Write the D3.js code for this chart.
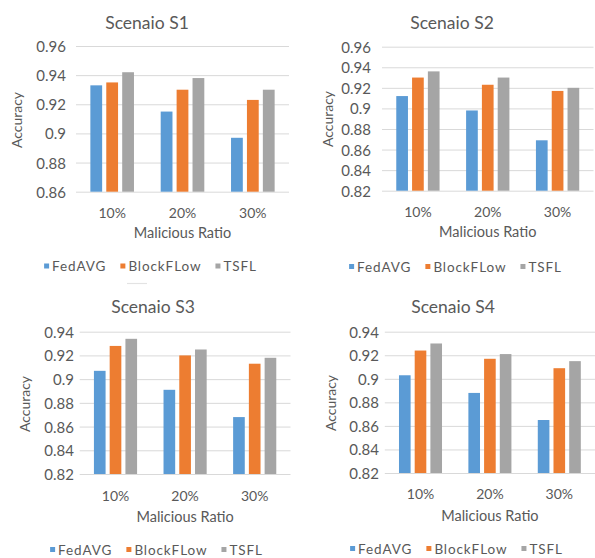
<!DOCTYPE html>
<html>
<head>
<meta charset="utf-8">
<script src="https://cdn.jsdelivr.net/npm/d3@7"></script>
<style>
  html, body { margin: 0; padding: 0; background: #fff; }
  svg { display: block; }
  text { font-family: Lato, "Open Sans", sans-serif; fill: #595959; }
</style>
</head>
<body>
<svg id="chart" width="595" height="558"></svg>
<script>
// Categories and series
const categories = ["10%", "20%", "30%"];
const seriesNames = ["FedAVG", "BlockFLow", "TSFL"];
const seriesColors = ["#5B9BD5", "#ED7D31", "#A5A5A5"];
const scenarioTitles = ["Scenaio S1", "Scenaio S2", "Scenaio S3", "Scenaio S4"];

// Accuracy per scenario: one row per series, one value per category
const s1FedAVG = [0.933, 0.915, 0.897];
const s1BlockFLow = [0.935, 0.930, 0.923];
const s1TSFL = [0.942, 0.938, 0.930];

const s2FedAVG = [0.912, 0.898, 0.869];
const s2BlockFLow = [0.930, 0.923, 0.917];
const s2TSFL = [0.936, 0.930, 0.920];

const s3FedAVG = [0.907, 0.891, 0.868];
const s3BlockFLow = [0.928, 0.920, 0.913];
const s3TSFL = [0.934, 0.925, 0.918];

const s4FedAVG = [0.903, 0.888, 0.865];
const s4BlockFLow = [0.924, 0.917, 0.909];
const s4TSFL = [0.930, 0.921, 0.915];

// Y-axis ticks per scenario
const s1Ticks = [0.86, 0.88, 0.90, 0.92, 0.94, 0.96];
const s2Ticks = [0.82, 0.84, 0.86, 0.88, 0.90, 0.92, 0.94, 0.96];
const s3Ticks = [0.82, 0.84, 0.86, 0.88, 0.90, 0.92, 0.94];
const s4Ticks = [0.82, 0.84, 0.86, 0.88, 0.90, 0.92, 0.94];

const xTitle = "Malicious Ratio";
const yTitle = "Accuracy";

const svg = d3.select("#chart");

// Layout of each panel (plot area and text anchors)
const panels = [
  { title: scenarioTitles[0], values: [s1FedAVG, s1BlockFLow, s1TSFL], ticks: s1Ticks,
    left: 77, right: 288, top: 46, bottom: 191.7, titleX: 147, titleY: 22,
    tickX: 66, catY: 212, axisTitleY: 232.5, legendY: 266, yTitleX: 16.5, yTitleY: 120 },
  { title: scenarioTitles[1], values: [s2FedAVG, s2BlockFLow, s2TSFL], ticks: s2Ticks,
    left: 383, right: 592.5, top: 46.7, bottom: 190.7, titleX: 452, titleY: 22,
    tickX: 371, catY: 211, axisTitleY: 231.5, legendY: 266.5, yTitleX: 327, yTitleY: 119 },
  { title: scenarioTitles[2], values: [s3FedAVG, s3BlockFLow, s3TSFL], ticks: s3Ticks,
    left: 80.7, right: 289.5, top: 331.7, bottom: 474, titleX: 153, titleY: 306,
    tickX: 74, catY: 495, axisTitleY: 516, legendY: 549.5, yTitleX: 24, yTitleY: 404 },
  { title: scenarioTitles[3], values: [s4FedAVG, s4BlockFLow, s4TSFL], ticks: s4Ticks,
    left: 385.8, right: 594, top: 331.7, bottom: 473, titleX: 453, titleY: 306.5,
    tickX: 379, catY: 493.5, axisTitleY: 515, legendY: 548.5, yTitleX: 330, yTitleY: 403 }
];

const fmt = v => String(+v.toFixed(2));

panels.forEach(p => {
  const g = svg.append("g");
  const ext = d3.extent(p.ticks);

  const y = d3.scaleLinear().domain(ext).range([p.bottom, p.top]);
  const x0 = d3.scaleBand().domain(categories).range([p.left, p.right])
    .paddingInner(0.38).paddingOuter(0.19);
  const x1 = d3.scaleBand().domain(seriesNames).range([0, x0.bandwidth()])
    .paddingInner(0.26).paddingOuter(0);

  // Gridlines
  const yAxis = d3.axisLeft(y).tickValues(p.ticks).tickSize(-(p.right - p.left + 2)).tickFormat("");
  const gridG = g.append("g").attr("transform", `translate(${p.left - 1},0)`).call(yAxis);
  gridG.select(".domain").remove();
  gridG.selectAll(".tick line").attr("stroke", "#D9D9D9").attr("stroke-width", 1);

  // Tick labels
  g.selectAll(".ylab").data(p.ticks).join("text")
    .attr("x", p.tickX).attr("y", d => y(d))
    .attr("text-anchor", "end").attr("dominant-baseline", "central")
    .attr("font-size", 15).text(fmt);

  // Bars
  const rows = categories.map((c, ci) => ({ c, vals: seriesNames.map((s, si) => ({ s, si, v: p.values[si][ci] })) }));
  g.selectAll(".grp").data(rows).join("g")
    .attr("transform", d => `translate(${x0(d.c)},0)`)
    .selectAll("rect").data(d => d.vals).join("rect")
    .attr("x", d => x1(d.s)).attr("width", x1.bandwidth())
    .attr("y", d => y(d.v)).attr("height", d => y(ext[0]) - y(d.v))
    .attr("fill", d => seriesColors[d.si]);

  // Category labels
  g.selectAll(".xlab").data(categories).join("text")
    .attr("x", d => x0(d) + x0.bandwidth() / 2).attr("y", p.catY)
    .attr("text-anchor", "middle").attr("dominant-baseline", "central")
    .attr("font-size", 14).text(d => d);

  // Titles
  g.append("text").attr("x", p.titleX).attr("y", p.titleY)
    .attr("text-anchor", "middle").attr("dominant-baseline", "central")
    .attr("font-size", 17.5).text(p.title);
  g.append("text").attr("x", (p.left + p.right) / 2).attr("y", p.axisTitleY)
    .attr("text-anchor", "middle").attr("dominant-baseline", "central")
    .attr("font-size", 14.5).text(xTitle);
  g.append("text").attr("transform", `translate(${p.yTitleX},${p.yTitleY}) rotate(-90)`)
    .attr("text-anchor", "middle").attr("dominant-baseline", "central")
    .attr("font-size", 14).text(yTitle);

  // Legend
  const lg = g.append("g");
  let cx = 0;
  seriesNames.forEach((s, i) => {
    lg.append("rect").attr("x", cx).attr("y", -2.5).attr("width", 5).attr("height", 5)
      .attr("fill", seriesColors[i]);
    const t = lg.append("text").attr("x", cx + 8).attr("y", 0)
      .attr("dominant-baseline", "central").attr("font-size", 13.5)
      .attr("letter-spacing", 0.9).text(s);
    cx += 8 + t.node().getComputedTextLength() + 14;
  });
  const lw = cx - 14;
  lg.attr("transform", `translate(${p.titleX + 3.5 - lw / 2},${p.legendY})`);
});

// Short separator stroke between the upper and lower rows
svg.append("line").attr("x1", 127).attr("x2", 147).attr("y1", 283.5).attr("y2", 283.5)
  .attr("stroke", "#E3E3E3").attr("stroke-width", 1.2);
</script>
</body>
</html>
